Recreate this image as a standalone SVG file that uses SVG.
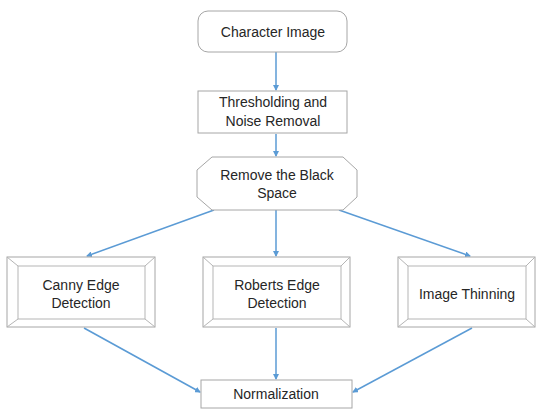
<svg xmlns="http://www.w3.org/2000/svg" width="540" height="410" viewBox="0 0 540 410">
<defs>
<marker id="ah" markerWidth="6" markerHeight="6" refX="5" refY="3" orient="auto" markerUnits="userSpaceOnUse">
<path d="M0,0 L6,3 L0,6 Z" fill="#5b9bd5"/>
</marker>
<style>
.b{fill:#fff;stroke:#a6a6a6;stroke-width:1}
.i{fill:none;stroke:#b5b5b5;stroke-width:1}
.t{font-family:"Liberation Sans",Arial,sans-serif;font-size:14px;fill:#262626;text-anchor:middle}
.c{stroke:#5b9bd5;stroke-width:1.5;fill:none;marker-end:url(#ah)}
</style>
</defs>
<rect width="540" height="410" fill="#fff"/>
<g id="connectors">
<line class="c" x1="276" y1="52" x2="276" y2="90"/>
<line class="c" x1="276" y1="134" x2="276" y2="156"/>
<line class="c" x1="214" y1="210" x2="87" y2="256"/>
<line class="c" x1="276" y1="210" x2="276" y2="256"/>
<line class="c" x1="339" y1="210" x2="470" y2="256"/>
<line class="c" x1="84" y1="328" x2="200" y2="392"/>
<line class="c" x1="276" y1="328" x2="276" y2="379"/>
<line class="c" x1="472" y1="328" x2="353" y2="392"/>
</g>
<g id="n1">
<rect class="b" x="198" y="11" width="149" height="41" rx="10"/>
<text class="t" x="273" y="37">Character Image</text>
</g>
<g id="n2">
<rect class="b" x="198" y="91" width="149" height="42"/>
<text class="t" x="273" y="107">Thresholding and</text>
<text class="t" x="273" y="126">Noise Removal</text>
</g>
<g id="n3">
<path class="b" d="M212,157 H343 L357,170 V197 L343,210 H212 L197,197 V170 Z"/>
<text class="t" x="277" y="180">Remove the Black</text>
<text class="t" x="277" y="198">Space</text>
</g>
<g id="n4">
<rect class="b" x="7" y="257" width="148" height="70"/>
<rect class="i" x="18" y="266" width="127" height="53"/>
<path class="i" d="M7,257 L18,266 M155,257 L145,266 M7,327 L18,319 M155,327 L145,319"/>
<text class="t" x="81" y="290">Canny Edge</text>
<text class="t" x="81" y="308">Detection</text>
</g>
<g id="n5">
<rect class="b" x="203" y="257" width="147" height="70"/>
<rect class="i" x="213" y="266" width="128" height="53"/>
<path class="i" d="M203,257 L213,266 M350,257 L341,266 M203,327 L213,319 M350,327 L341,319"/>
<text class="t" x="277" y="290">Roberts Edge</text>
<text class="t" x="277" y="308">Detection</text>
</g>
<g id="n6">
<rect class="b" x="398" y="257" width="137" height="70"/>
<rect class="i" x="408" y="266" width="118" height="53"/>
<path class="i" d="M398,257 L408,266 M535,257 L526,266 M398,327 L408,319 M535,327 L526,319"/>
<text class="t" x="467" y="299">Image Thinning</text>
</g>
<g id="n7">
<rect class="b" x="201" y="380" width="151" height="28"/>
<text class="t" x="276" y="399">Normalization</text>
</g>
</svg>
